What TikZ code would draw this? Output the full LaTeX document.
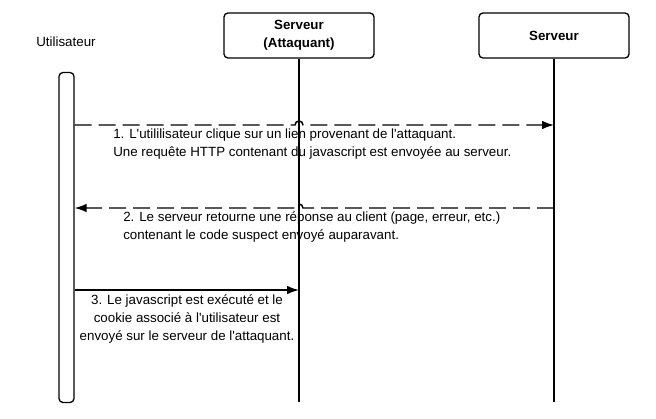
\documentclass[tikz,border=0pt]{standalone}
\usepackage{fontspec}
\setmainfont{Liberation Sans}
\usetikzlibrary{arrows.meta}
\usetikzlibrary{calc}
\usetikzlibrary{positioning}
\newcommand{\apos}{\textquotesingle}

\begin{document}
\begin{tikzpicture}[x=0.75pt,y=-0.75pt,>={Latex[length=9pt,width=6.5pt]},font=\fontsize{10}{13.5}\selectfont,
    main node/.style={rectangle,draw,line width=1pt,rounded corners=3pt,align=center,minimum width=112.5pt,minimum height=33.75pt,font=\fontsize{10}{13.5}\selectfont\bfseries},
    bar node/.style={rectangle,draw,line width=1pt,rounded corners=3pt,minimum width=11.25pt,minimum height=247.5pt,inner sep=0pt},
    lifeline/.style={line width=0.8pt},
    message/.style={->,line width=1.1pt},
    reponse/.style={message,dash pattern=on 12.75pt off 5.25pt},
    label node/.style={inner sep=0pt}]

    \useasboundingbox (0,0) rectangle (656,418);

    \node[main node] (attaquant) at (299,35.5) {Serveur\\(Attaquant)};
    \node[main node,on grid,right=191.25pt of attaquant] (serveur) {Serveur};
    \node (utilisateur) at (66,42) {Utilisateur};
    \node[bar node] (barre) at (66.5,237.5) {};

    \coordinate (fin) at (0,402);
    \coordinate (m1) at (0,125);
    \coordinate (m2) at (0,208);
    \coordinate (m3) at (0,290);

    % lignes de vie
    \draw[lifeline] (attaquant.south) -- (attaquant |- fin);
    \draw[lifeline] (serveur.south) -- (serveur |- fin);

    % messages
    \draw[reponse] (barre.east |- m1)
    -- ($ (attaquant |- m1) - (4,0) $) arc[start angle=180,end angle=0,radius=3pt]
    -- (serveur |- m1);

    \draw[reponse] (serveur |- m2)
    -- ($ (attaquant |- m2) + (4,0) $) arc[start angle=0,end angle=180,radius=3pt]
    -- (barre.east |- m2);

    \draw[message] (barre.east |- m3) -- (attaquant |- m3);

    \node[label node,anchor=north west,align=left] (texte1) at (113,129) {1. L\apos utililisateur clique sur un lien provenant de l\apos attaquant.\\Une requête HTTP contenant du javascript est envoyée au serveur.};
    \node[label node,anchor=north west,align=left] (texte2) at (123,211) {2. Le serveur retourne une réponse au client (page, erreur, etc.)\\contenant le code suspect envoyé auparavant.};
    \node[label node,anchor=north,align=center] (texte3) at (187,294) {3. Le javascript est exécuté et le\\cookie associé à l\apos utilisateur est\\envoyé sur le serveur de l\apos attaquant.};

\end{tikzpicture}
\end{document}
